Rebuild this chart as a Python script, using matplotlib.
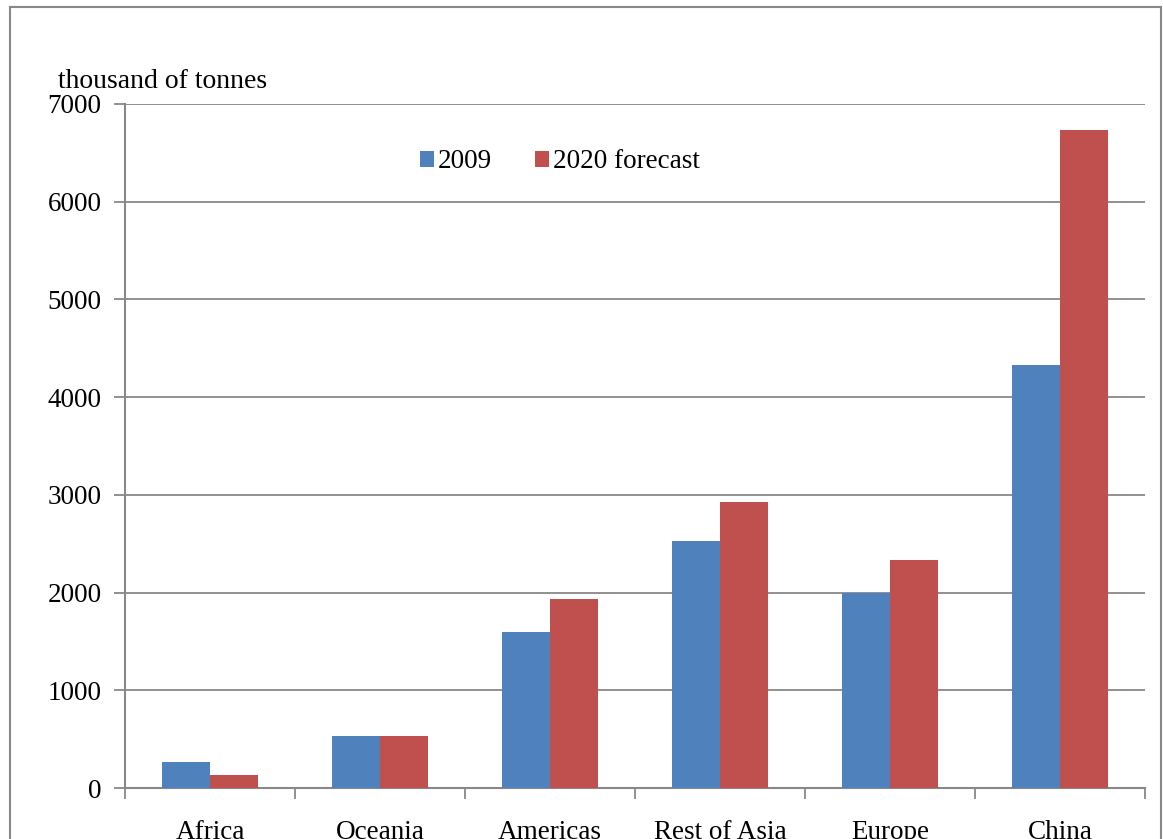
import matplotlib
matplotlib.use("Agg")
import matplotlib.pyplot as plt
from matplotlib.patches import Rectangle
import numpy as np

regions = ["Africa", "Oceania", "Americas", "Rest of Asia", "Europe", "China"]
v2009 = [270, 530, 1600, 2530, 2000, 4330]
v2020 = [130, 530, 1930, 2930, 2330, 6730]
yticks = [0, 1000, 2000, 3000, 4000, 5000, 6000, 7000]

plt.rcParams["font.family"] = ["Liberation Serif", "DejaVu Serif"]

W, H = 1163, 839
fig = plt.figure(figsize=(W / 100, H / 100), dpi=100)
ax = fig.add_axes([125 / W, 1 - 788 / H, (1145 - 125) / W, (788 - 104) / H])

# outer chart frame
fig.patches.append(Rectangle((10 / W, -0.1), (1161 - 10) / W, 1.1 - 7 / H,
                             transform=fig.transFigure, fill=False,
                             edgecolor="#888888", lw=1.5))

x = np.arange(len(regions))
bw = 0.285
ax.bar(x - bw / 2, v2009, bw, color="#4F81BD", label="2009", zorder=3)
ax.bar(x + bw / 2, v2020, bw, color="#C0504D", label="2020 forecast", zorder=3)

fs = 19.5
ax.set_xlim(-0.5, len(regions) - 0.5)
ax.set_ylim(0, 7000)
ax.set_yticks(yticks)
ax.set_yticklabels([str(t) for t in yticks], fontsize=fs)
ax.yaxis.grid(True, color="#888888", lw=1.3, zorder=0)
ax.set_axisbelow(True)

ax.set_xticks(np.arange(len(regions) + 1) - 0.5)
ax.set_xticklabels([])
ax.set_xticks(x, minor=True)
ax.set_xticklabels(regions, minor=True, fontsize=fs)
ax.tick_params(axis="x", which="major", length=8, width=1.3, color="#888888", direction="out")
ax.tick_params(axis="x", which="minor", length=0, pad=23)
ax.tick_params(axis="y", length=8, width=1.3, color="#888888", direction="out", pad=9)

for s in ("top", "right"):
    ax.spines[s].set_visible(False)
for s in ("left", "bottom"):
    ax.spines[s].set_color("#888888")
    ax.spines[s].set_linewidth(1.5)

fig.text(58 / W, 1 - 82 / H, "thousand of tonnes", fontsize=20, va="center", ha="left")

ax.legend(loc="center", bbox_to_anchor=(560 / W, 1 - 162 / H), bbox_transform=fig.transFigure,
          ncol=2, frameon=False, fontsize=fs, handlelength=0.5, handleheight=0.5,
          handletextpad=0.15, columnspacing=1.6)

fig.savefig("out.png", dpi=100)
